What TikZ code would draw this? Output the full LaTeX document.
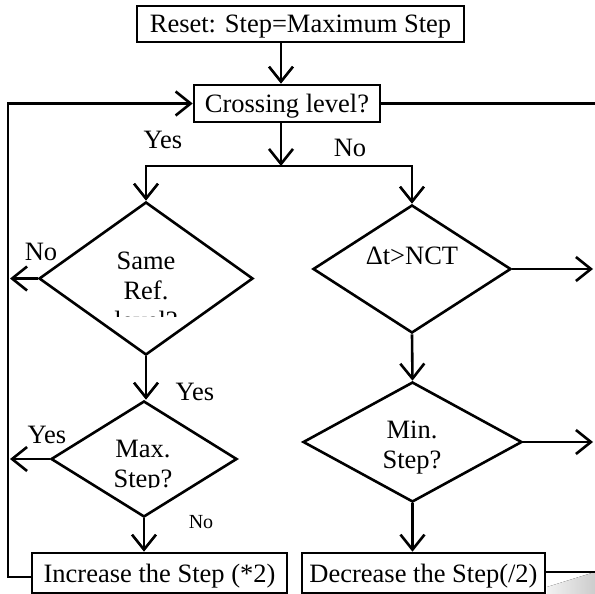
\documentclass[tikz,border=0pt]{standalone}
\usepackage{fontspec}
\setmainfont{Liberation Serif}
\usetikzlibrary{arrows.meta,shapes.geometric}
\begin{document}
\begin{tikzpicture}[x=1pt,y=-1pt, line width=2.6pt,
  every node/.style={font=\fontsize{26.5}{30}\selectfont},
  box/.style={draw, rectangle, inner sep=0pt, text height=24pt, text depth=6pt},
  dia/.style={draw, diamond, inner sep=0pt},
  arr/.style={-{Straight Barb[length=15pt,width=24pt]}},
  lbl/.style={inner sep=0pt},
  txt/.style={anchor=base, inner sep=0pt}]
\useasboundingbox (0,0) rectangle (595,594);
% grey shadow at bottom right
\fill[left color=gray!10, right color=gray!40, draw=none] (547,594) -- (547,587) -- (595,572) -- (595,594) -- cycle;
% boxes
\node[box, minimum width=327pt, minimum height=36pt] (reset) at (300.5,24) {Reset: Step=Maximum Step};
\node[box, minimum width=186pt, minimum height=37pt] (cross) at (287,103.5) {Crossing level?};
\node[dia, minimum width=214pt, minimum height=153pt] (same) at (146,278.5) {};
\node[dia, minimum width=186pt, minimum height=116pt] (max) at (144,459) {};
\node[dia, minimum width=198pt, minimum height=128pt] (dt) at (412,269) {};
\node[dia, minimum width=219pt, minimum height=120pt] (min) at (412.5,442) {};
\node[box, minimum width=255pt, minimum height=40pt] (inc) at (159.5,573) {Increase the Step (*2)};
\node[box, minimum width=243pt, minimum height=40pt] (dec) at (423.5,573) {Decrease the Step(/2)};
% diamond texts
\node[txt] (dtT) at (412,264) {Δt>NCT};
\node[txt] (minA) at (412,438) {Min.};
\node[txt] (minB) at (412,468) {Step?};
\begin{scope}
\clip (0,0) rectangle (595,316);
\node[txt] (sameA) at (146,269) {Same};
\node[txt] (sameB) at (146,299) {Ref.};
\node[txt] (sameC) at (146,329) {level?};
\end{scope}
\begin{scope}
\clip (0,0) rectangle (595,487.5);
\node[txt] (maxA) at (143,457) {Max.};
\node[txt] (maxB) at (143,487) {Step?};
\end{scope}
% labels
\node[lbl] (yes1) at (163,140) {Yes};
\node[lbl] (no1) at (350,148) {No};
\node[lbl] (no2) at (41,252) {No};
\node[lbl] (yes2) at (195,392) {Yes};
\node[lbl] (yes3) at (47,435) {Yes};
\node[lbl, font=\fontsize{20}{24}\selectfont] (no3) at (201,522) {No};
% coordinates
\coordinate (j) at (281,166);
\coordinate (lt) at (8,103.5);
\coordinate (lx) at (10,0);
\coordinate (rx) at (593,0);
\coordinate (rt) at (596,103.5);
% connectors
\draw[arr] (reset.south -| j) -- (cross.north -| j);
\draw[arr] (cross.south -| j) -- (j);
\draw[arr] (j) -| (same.north);
\draw[arr] (j) -| (dt.north);
\draw[arr] (same.west) -- (same.west -| lx);
\draw[arr] (same.south) -- (same.south |- max.north);
\draw[arr] (max.west) -- (max.west -| lx);
\draw[arr] (max.south) -- (max.south |- inc.north);
\draw[arr] ([yshift=-4pt]inc.west) -| (lt) -- (cross.west);
\draw (cross.east) -- (rt);
\draw[arr] (dt.east) -- (dt.east -| rx);
\draw[arr] (dt.south) -- (min.north);
\draw[arr] (min.east) -- (min.east -| rx);
\draw[arr] (min.south) -- (min.south |- dec.north);
\draw ([yshift=1pt]dec.east) -- ([yshift=1pt]dec.east -| rt);
\end{tikzpicture}
\end{document}
